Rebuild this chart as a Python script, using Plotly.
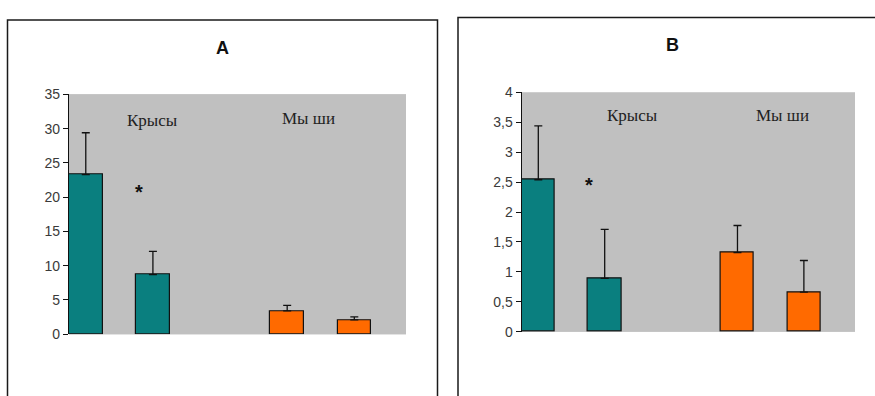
import plotly.graph_objects as go

W, H = 875, 396

# Groups on the x scale: two rat bars, a gap, two mouse bars
slots = [0, 1, 3, 4]
colors = ["#0A7F7F", "#0A7F7F", "#FF6A00", "#FF6A00"]

# Panel A
a_values = [23.3, 8.7, 3.4, 2.1]
a_errors = [6.1, 3.4, 0.8, 0.45]
a_ticks = [0, 5, 10, 15, 20, 25, 30, 35]
a_ticktext = ["0", "5", "10", "15", "20", "25", "30", "35"]

# Panel B
b_values = [2.54, 0.89, 1.32, 0.66]
b_errors = [0.90, 0.82, 0.455, 0.53]
b_ticks = [0, 0.5, 1, 1.5, 2, 2.5, 3, 3.5, 4]
b_ticktext = ["0", "0,5", "1", "1,5", "2", "2,5", "3", "3,5", "4"]


def px(x):
    return x / W


def py(y):
    return 1 - y / H


fig = go.Figure()

for vals, errs, xa, ya in [(a_values, a_errors, "x", "y"), (b_values, b_errors, "x2", "y2")]:
    fig.add_trace(go.Bar(
        x=slots, y=vals, width=0.5, xaxis=xa, yaxis=ya,
        marker=dict(color=colors, line=dict(color="#111111", width=1.2)),
        error_y=dict(type="data", symmetric=False, array=errs,
                     arrayminus=[0] * len(errs), color="#111111",
                     thickness=1.3, width=4),
        showlegend=False, hoverinfo="skip",
    ))

yaxis_style = dict(
    showline=True, linecolor="#111111", linewidth=1.2,
    ticks="outside", ticklen=5, tickcolor="#111111", tickwidth=1,
    showgrid=False, zeroline=False,
    tickfont=dict(family="Liberation Sans, Arial", size=14, color="#3a3a3a"),
)
xaxis_style = dict(
    range=[-0.25, 4.77], showline=False, showticklabels=False,
    ticks="", showgrid=False, zeroline=False,
)

fig.update_layout(
    width=W, height=H,
    margin=dict(l=0, r=0, t=0, b=0),
    paper_bgcolor="white",
    plot_bgcolor="#C0C0C0",
    bargap=0,
    xaxis=dict(domain=[px(69), px(406)], anchor="y", **xaxis_style),
    yaxis=dict(domain=[py(340), py(90)], anchor="x", range=[0, 35],
               tickvals=a_ticks, ticktext=a_ticktext, **yaxis_style),
    xaxis2=dict(domain=[px(521.7), px(855)], anchor="y2", **xaxis_style),
    yaxis2=dict(domain=[py(337.3), py(88)], anchor="x2", range=[0, 4],
                tickvals=b_ticks, ticktext=b_ticktext, **yaxis_style),
)

# Plot areas for the two panels need their own grey background
for x0, x1, y0, y1 in [(69, 406, 340, 90), (521.7, 855, 337.3, 88)]:
    fig.add_shape(type="rect", xref="paper", yref="paper",
                  x0=px(x0), x1=px(x1), y0=py(y0), y1=py(y1),
                  fillcolor="#C0C0C0", line=dict(width=0), layer="below")

# Panel frames
fig.add_shape(type="rect", xref="paper", yref="paper",
              x0=px(7.5), x1=px(437.5), y0=py(420), y1=py(12.5),
              line=dict(color="#1a1a1a", width=1.5), fillcolor="rgba(0,0,0,0)")
fig.add_shape(type="rect", xref="paper", yref="paper",
              x0=px(458), x1=px(900), y0=py(420), y1=py(10),
              line=dict(color="#1a1a1a", width=1.5), fillcolor="rgba(0,0,0,0)")

serif = dict(family="Liberation Serif, Times New Roman", size=17, color="#222222")
title_font = dict(family="Liberation Sans, Arial", size=18, color="#111111")
star_font = dict(family="Liberation Sans, Arial", size=20, color="#111111")
labels = [
    ("A", 222, 42, title_font, True),
    ("B", 672, 39, title_font, True),
    ("Крысы", 152, 117, serif, False),
    ("Мы ши", 308, 115, serif, False),
    ("Крысы", 632, 112, serif, False),
    ("Мы ши", 782, 112, serif, False),
    ("*", 139, 192, star_font, True),
    ("*", 589, 184, star_font, True),
]
for text, x, y, font, bold in labels:
    fig.add_annotation(
        text=f"<b>{text}</b>" if bold else text,
        xref="paper", yref="paper", x=px(x), y=py(y),
        xanchor="center", yanchor="middle", showarrow=False, font=font,
    )

fig.write_html("out.html")
